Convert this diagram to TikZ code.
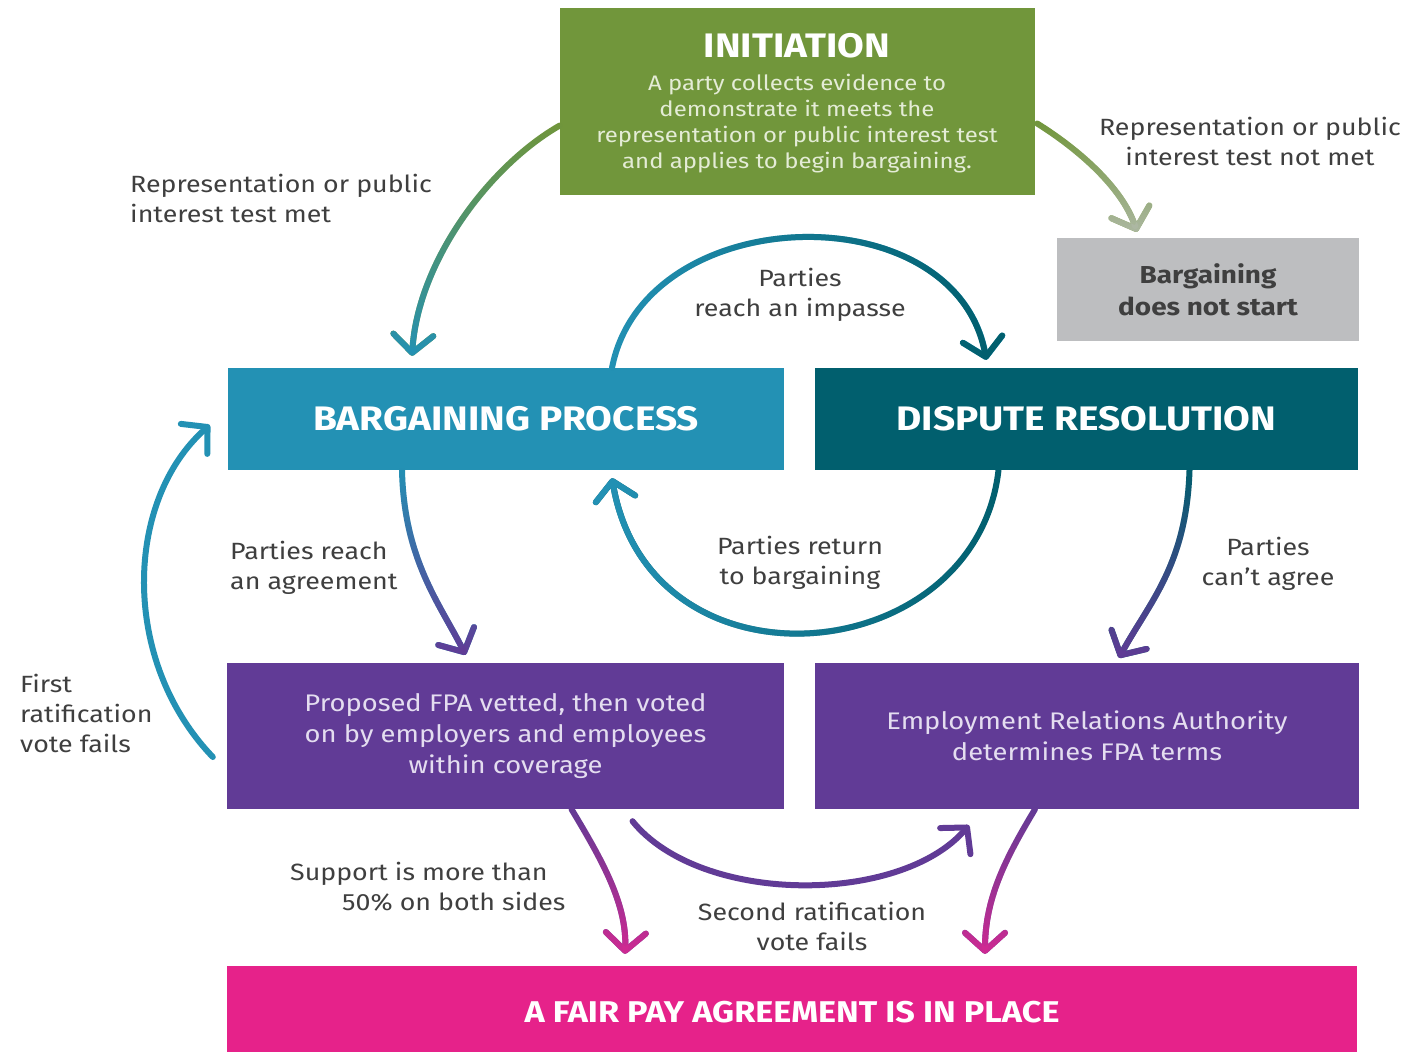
\documentclass[tikz,border=0pt]{standalone}
\usepackage{fontspec}
\setmainfont{Fira Sans}[FakeStretch=1.14]
\usetikzlibrary{arrows.meta,calc,fadings}
\definecolor{cgreen}{HTML}{71963B}
\definecolor{cgray}{HTML}{BDBEC0}
\definecolor{cgrayarrow}{HTML}{ADB8A3}
\definecolor{cteal}{HTML}{2391B4}
\definecolor{cdark}{HTML}{015F6E}
\definecolor{cpurple}{HTML}{613B96}
\definecolor{cmag}{HTML}{E6228A}
\definecolor{cmagarrow}{HTML}{D02A92}
\definecolor{ctext}{HTML}{3F3F3F}
\definecolor{cpalegreen}{HTML}{E4ECD6}
\definecolor{cpalepurple}{HTML}{E4DDF0}
\tikzfading[name=toS, top color=transparent!100, bottom color=transparent!0]
\tikzfading[name=toE, left color=transparent!100, right color=transparent!0]
\tikzfading[name=toW, left color=transparent!0, right color=transparent!100]
\tikzset{
  box/.style={rectangle, inner sep=0pt, align=center, anchor=center},
  lbl/.style={text=ctext, font=\fontsize{23.5}{30}\selectfont, inner sep=0pt},
  conn/.style={line width=6pt, line cap=round,
    -{Straight Barb[length=18pt,width=40pt,round]}},
  bigtitle/.style={text=white, font=\fontsize{34}{38}\selectfont\bfseries, inner sep=0pt},
}
\begin{document}
\begin{tikzpicture}[x=1pt,y=-1pt]
\useasboundingbox (0,0) rectangle (1412,1051);
\fill[white] (0,0) rectangle (1412,1051);

% boxes
\node[box, fill=cgreen, minimum width=475pt, minimum height=187pt] (init) at (797.5,101.5) {};
\node[bigtitle] (inittitle) at (797,46) {INITIATION};
\node[text=cpalegreen, font=\fontsize{21}{26}\selectfont, align=center, inner sep=0pt] (initbody) at (797,124)
  {A party collects evidence to\\demonstrate it meets the\\representation or public interest test\\and applies to begin bargaining.};

\node[box, fill=cgray, minimum width=302pt, minimum height=103pt, text=ctext,
  font=\fontsize{24.5}{32}\selectfont\bfseries] (nostart) at (1208,289.5) {Bargaining\\does not start};

\node[box, fill=cteal, minimum width=556pt, minimum height=102pt, text=white,
  font=\fontsize{34}{38}\selectfont\bfseries] (bp) at (506,419) {BARGAINING PROCESS};
\node[box, fill=cdark, minimum width=543pt, minimum height=102pt, text=white,
  font=\fontsize{34}{38}\selectfont\bfseries] (dr) at (1086.5,419) {DISPUTE RESOLUTION};

\node[box, fill=cpurple, minimum width=557pt, minimum height=146pt, text=cpalepurple,
  font=\fontsize{24}{31}\selectfont] (fpa) at (505.5,736) {Proposed FPA vetted, then voted\\on by employers and employees\\within coverage};
\node[box, fill=cpurple, minimum width=544pt, minimum height=146pt, text=cpalepurple,
  font=\fontsize{24}{31}\selectfont] (era) at (1087,736) {Employment Relations Authority\\determines FPA terms};

\node[box, fill=cmag, minimum width=1130pt, minimum height=92pt, text=white,
  font=\fontsize{30}{32}\selectfont\bfseries] (place) at (792,1012) {A FAIR PAY AGREEMENT IS IN PLACE};

% labels
\node[lbl, anchor=west, align=left] (l1) at (130,198) {Representation or public\\interest test met};
\node[lbl, align=center] (l2) at (1250,141) {Representation or public\\interest test not met};
\node[lbl, align=center] (l3) at (800,295) {Parties\\reach an impasse};
\node[lbl, anchor=west, align=left] (l4) at (230,568) {Parties reach\\an agreement};
\node[lbl, align=center] (l5) at (800,563) {Parties return\\to bargaining};
\node[lbl, align=center] (l6) at (1268,564) {Parties\\can’t agree};
\node[lbl, anchor=west, align=left] (l7) at (20,713) {First\\ratification\\vote fails};
\node[lbl, anchor=west, align=left] (l8) at (290,887) {Support is more than\\\hspace*{52pt}50\% on both sides};
\node[lbl, align=center] (l9) at (812,926) {Second ratification\\vote fails};

% connectors
% 1 initiation -> bargaining
\draw[conn, cgreen] ($(init.west)+(0,24)$) .. controls +(-70,40) and +(6,-95) .. ($(bp.north)+(-94,-12)$);
\draw[conn, cteal, path fading=toS] ($(init.west)+(0,24)$) .. controls +(-70,40) and +(6,-95) .. ($(bp.north)+(-94,-12)$);
% 2 initiation -> no start
\draw[conn, cgreen] ($(init.east)+(2,22)$) .. controls +(40,25) and +(-15,-45) .. ($(nostart.north)+(-71,-6)$);
\draw[conn, cgrayarrow, path fading=toS] ($(init.east)+(2,22)$) .. controls +(40,25) and +(-15,-45) .. ($(nostart.north)+(-71,-6)$);
% 3 impasse
\draw[conn, cteal] ($(bp.north)+(106,0)$) .. controls +(33,-168) and +(-31,-168) .. ($(dr.north)+(-100,-8)$);
\draw[conn, cdark, path fading=toE] ($(bp.north)+(106,0)$) .. controls +(33,-168) and +(-31,-168) .. ($(dr.north)+(-100,-8)$);
% 4 return
\draw[conn, cdark] ($(dr.south)+(-88,0)$) .. controls +(-23,200) and +(38,222) .. ($(bp.south)+(106,8)$);
\draw[conn, cteal, path fading=toW] ($(dr.south)+(-88,0)$) .. controls +(-23,200) and +(38,222) .. ($(bp.south)+(106,8)$);
% 5 bp -> fpa
\draw[conn, cteal] ($(bp.south)+(-104,0)$) .. controls +(2,90) and +(-25,-50) .. ($(fpa.north)+(-40,-8)$);
\draw[conn, cpurple, path fading=toS] ($(bp.south)+(-104,0)$) .. controls +(2,90) and +(-25,-50) .. ($(fpa.north)+(-40,-8)$);
% 6 dr -> era
\draw[conn, cdark] ($(dr.south)+(103,0)$) .. controls +(-3,95) and +(30,-55) .. ($(era.north)+(32,-5)$);
\draw[conn, cpurple, path fading=toS] ($(dr.south)+(103,0)$) .. controls +(-3,95) and +(30,-55) .. ($(era.north)+(32,-5)$);
% 7 first ratification
\draw[conn, cteal] ($(fpa.west)+(-14,21)$) .. controls +(-93,-97) and +(-85,75) .. ($(bp.west)+(-18,6)$);
% 8 fpa -> place
\draw[conn, cpurple] ($(fpa.south)+(66,0)$) .. controls +(30,50) and +(2,-50) .. ($(place.north)+(-167,-12)$);
\draw[conn, cmagarrow, path fading=toS] ($(fpa.south)+(66,0)$) .. controls +(30,50) and +(2,-50) .. ($(place.north)+(-167,-12)$);
% 9 second ratification
\draw[conn, cpurple] ($(fpa.south)+(127,12)$) .. controls +(68,84) and +(-69,80) .. ($(era.south)+(-118,16)$);
% 10 era -> place
\draw[conn, cpurple] ($(era.south)+(-52,0)$) .. controls +(-30,50) and +(0,-55) .. ($(place.north)+(193,-12)$);
\draw[conn, cmagarrow, path fading=toS] ($(era.south)+(-52,0)$) .. controls +(-30,50) and +(0,-55) .. ($(place.north)+(193,-12)$);
\end{tikzpicture}
\end{document}
